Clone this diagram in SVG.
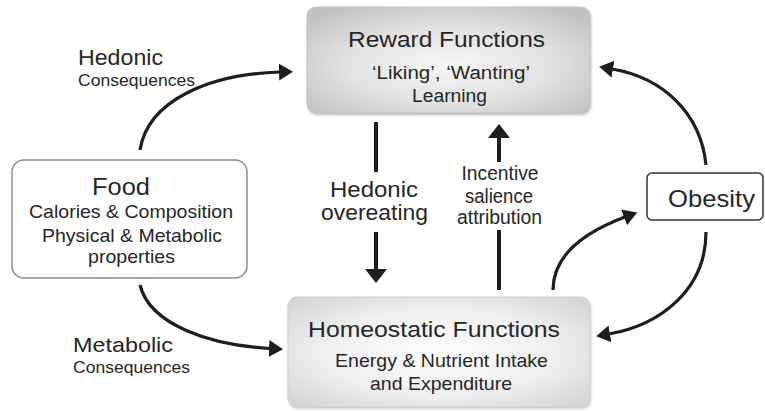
<svg xmlns="http://www.w3.org/2000/svg" width="765" height="413" viewBox="0 0 765 413">
  <style>
    text { font-family: "Liberation Sans", Arial, Helvetica, sans-serif; fill: #262626; }
    .t22 { font-size: 22px; }
    .t18 { font-size: 19px; }
    .t16 { font-size: 16.5px; }
    .curve { fill: none; stroke: #1e1e1e; stroke-width: 3.2; }
    .bar { fill: none; stroke: #1e1e1e; stroke-width: 4; }
  </style>
  <defs>
    <radialGradient id="rewardFill" cx="0.5" cy="0.55" r="0.65">
      <stop offset="0" stop-color="#f7f7f7"/>
      <stop offset="0.55" stop-color="#e2e2e2"/>
      <stop offset="1" stop-color="#c2c2c2"/>
    </radialGradient>
    <radialGradient id="homeoFill" cx="0.5" cy="0.5" r="0.65">
      <stop offset="0" stop-color="#fdfdfd"/>
      <stop offset="0.6" stop-color="#efefef"/>
      <stop offset="1" stop-color="#d6d6d6"/>
    </radialGradient>
    <filter id="soft" x="-10%" y="-10%" width="120%" height="130%">
      <feGaussianBlur stdDeviation="1.5"/>
    </filter>
    <marker id="head" markerUnits="userSpaceOnUse" markerWidth="16" markerHeight="20" viewBox="0 -10 16 20" refX="1" refY="0" orient="auto">
      <path d="M0,-8.5 L14,0 L0,8.5 z" fill="#1e1e1e"/>
    </marker>
    <marker id="headBig" markerUnits="userSpaceOnUse" markerWidth="16" markerHeight="24" viewBox="0 -12 16 24" refX="1" refY="0" orient="auto">
      <path d="M0,-11 L14,0 L0,11 z" fill="#1e1e1e"/>
    </marker>
  </defs>

  <rect width="765" height="413" fill="#ffffff"/>

  <!-- Reward functions -->
  <g id="reward">
    <rect x="308" y="9" width="283" height="106" rx="9" fill="#b8b8b8" filter="url(#soft)"/>
    <rect x="307" y="7" width="283" height="106" rx="9" fill="url(#rewardFill)" stroke="#c4c4c4" stroke-width="1"/>
    <text class="t22" x="348" y="47" textLength="197" lengthAdjust="spacingAndGlyphs">Reward Functions</text>
    <text x="372" y="79" font-size="18" textLength="158" lengthAdjust="spacingAndGlyphs">‘Liking’, ‘Wanting’</text>
    <text x="412" y="101.5" font-size="18" textLength="75" lengthAdjust="spacingAndGlyphs">Learning</text>
  </g>

  <!-- Homeostatic functions -->
  <g id="homeostatic">
    <rect x="289" y="299" width="302" height="110" rx="9" fill="#c8c8c8" filter="url(#soft)"/>
    <rect x="288" y="297" width="302" height="110" rx="9" fill="url(#homeoFill)" stroke="#cfcfcf" stroke-width="1"/>
    <text class="t22" x="308" y="337" textLength="252" lengthAdjust="spacingAndGlyphs">Homeostatic Functions</text>
    <text class="t18" x="335" y="366.5" textLength="213" lengthAdjust="spacingAndGlyphs">Energy &amp; Nutrient Intake</text>
    <text class="t18" x="370" y="390" textLength="142" lengthAdjust="spacingAndGlyphs">and Expenditure</text>
  </g>

  <!-- Food -->
  <g id="food">
    <rect x="12" y="160" width="235" height="118" rx="12" fill="#ffffff" stroke="#8c8c8c" stroke-width="1.5"/>
    <text x="92" y="195" font-size="23" textLength="58" lengthAdjust="spacingAndGlyphs">Food</text>
    <text class="t18" x="29" y="218" textLength="204" lengthAdjust="spacingAndGlyphs">Calories &amp; Composition</text>
    <text class="t18" x="42" y="241.5" textLength="180" lengthAdjust="spacingAndGlyphs">Physical &amp; Metabolic</text>
    <text class="t18" x="88" y="263" textLength="87" lengthAdjust="spacingAndGlyphs">properties</text>
  </g>

  <!-- Obesity -->
  <g id="obesity">
    <rect x="647" y="173" width="116" height="47" rx="5" fill="#ffffff" stroke="#333333" stroke-width="1.5"/>
    <text x="668" y="207" font-size="24" textLength="87" lengthAdjust="spacingAndGlyphs">Obesity</text>
  </g>

  <!-- Connectors -->
  <g id="connectors">
    <!-- Food to reward -->
    <path class="curve" d="M140,150 C148,100 210,74 280,72" marker-end="url(#head)"/>
    <!-- Food to homeostatic -->
    <path class="curve" d="M140,285 C150,325 210,345 270,348.5" marker-end="url(#head)"/>
    <!-- Obesity to reward -->
    <path class="curve" d="M706,165 C701,115 665,78 612,69" marker-end="url(#head)"/>
    <!-- Homeostatic to obesity -->
    <path class="curve" d="M553,290 C553,255 585,232 625,217" marker-end="url(#head)"/>
    <!-- Obesity to homeostatic -->
    <path class="curve" d="M706,232 C706,290 660,325 609,334" marker-end="url(#head)"/>

    <!-- Hedonic overeating (downward) -->
    <path class="bar" d="M376,122 V172"/>
    <path class="bar" d="M376,232 V270" marker-end="url(#headBig)"/>
    <!-- Incentive salience attribution (upward) -->
    <path class="bar" d="M499,290 V230"/>
    <path class="bar" d="M499,162 V137" marker-end="url(#headBig)"/>
  </g>

  <!-- Connector labels -->
  <g id="labels">
    <text class="t22" x="78" y="65" textLength="85" lengthAdjust="spacingAndGlyphs">Hedonic</text>
    <text class="t16" x="78" y="86" textLength="117" lengthAdjust="spacingAndGlyphs">Consequences</text>
    <text x="73" y="351.5" font-size="21" textLength="100" lengthAdjust="spacingAndGlyphs">Metabolic</text>
    <text class="t16" x="73" y="373" textLength="117" lengthAdjust="spacingAndGlyphs">Consequences</text>
    <text class="t22" x="330" y="197" textLength="88" lengthAdjust="spacingAndGlyphs">Hedonic</text>
    <text class="t22" x="321" y="220" textLength="107" lengthAdjust="spacingAndGlyphs">overeating</text>
    <text x="461.5" y="179.5" font-size="19.5" textLength="77" lengthAdjust="spacingAndGlyphs">Incentive</text>
    <text x="465" y="202.5" font-size="19.5" textLength="68" lengthAdjust="spacingAndGlyphs">salience</text>
    <text x="457" y="224" font-size="19.5" textLength="85" lengthAdjust="spacingAndGlyphs">attribution</text>
  </g>
</svg>
